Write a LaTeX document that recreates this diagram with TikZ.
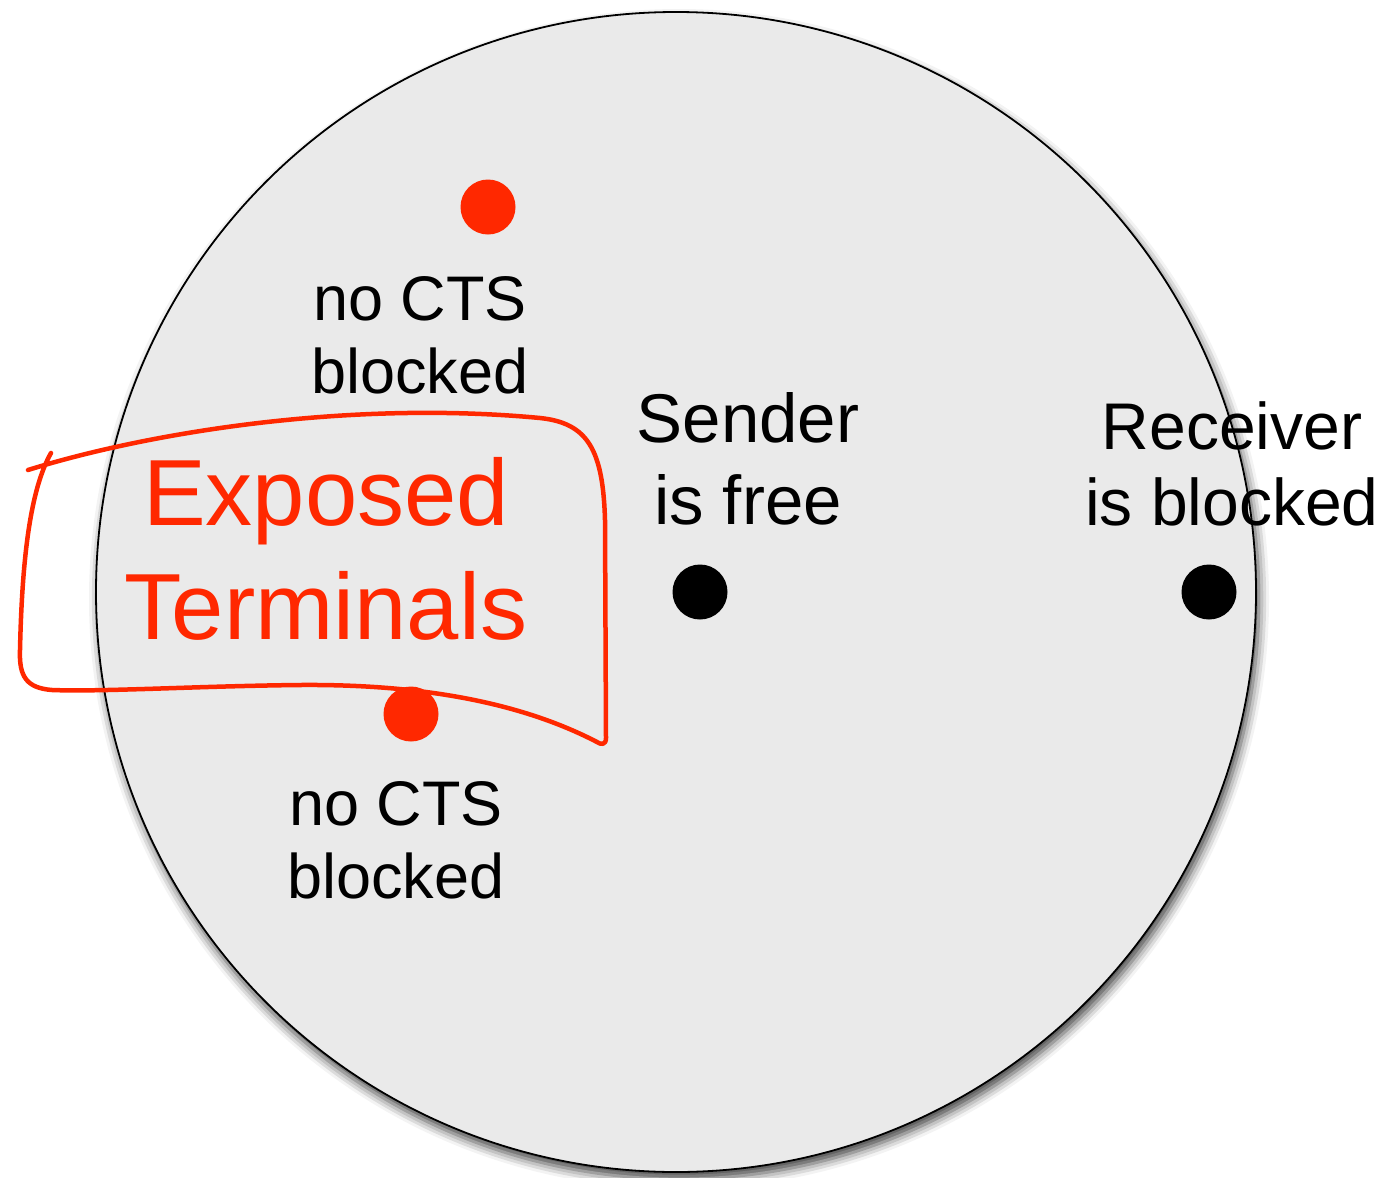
\documentclass[tikz,border=0pt]{standalone}
\usepackage{fontspec}
\setmainfont{Liberation Sans}
\usetikzlibrary{shadows.blur}
\definecolor{fieldgray}{RGB}{234,234,234}
\definecolor{alertred}{RGB}{255,40,0}
\begin{document}
\begin{tikzpicture}[x=1pt,y=-1pt,
  station/.style={circle,fill=#1,minimum size=55pt,inner sep=0pt},
  caption/.style={align=center,inner sep=0pt,anchor=base},
  marker/.style={draw=alertred,line width=4.5pt,line cap=round,line join=round}]
\useasboundingbox (0,0) rectangle (1387,1178);

% transmission range of the sender
\node[circle,draw=black,line width=1.8pt,fill=fieldgray,minimum size=1160pt,inner sep=0pt,
      blur shadow={shadow xshift=3pt,shadow yshift=-7pt,shadow blur radius=10pt,shadow opacity=75}]
  (range) at (676,592) {};

% stations
\node[station=alertred] (topnode) at (488,207) {};
\node[station=alertred] (botnode) at (411,714) {};
\node[station=black] (sender) at (700,592) {};
\node[station=black] (receiver) at (1209,592) {};

% captions (anchored at the baseline of their last line)
\node[caption,font=\fontsize{63}{73}\selectfont] (toptext) at (420,393) {no CTS\\blocked};
\node[caption,font=\fontsize{63}{73}\selectfont] (bottext) at (396,898) {no CTS\\blocked};
\node[caption,font=\fontsize{69}{82}\selectfont] (sendtext) at (748,524) {Sender\\is free};
\node[caption,font=\fontsize{66}{76}\selectfont] (recvtext) at (1232,525) {Receiver\\is blocked};
\node[caption,font=\fontsize{94}{114}\selectfont,text=alertred] (exposed) at (326,639) {Exposed\\Terminals};

% hand-drawn loop around the exposed terminals
\draw[marker] (28,470) .. controls (150,432) and (350,400) .. (540,418)
  .. controls (588,423) and (603,450) .. (605,520)
  -- (606,738) .. controls (606,745) and (601,745) .. (597,742)
  .. controls (520,702) and (420,684) .. (300,685)
  .. controls (200,686) and (100,692) .. (52,690)
  .. controls (26,688) and (19,676) .. (20,650)
  .. controls (22,560) and (30,490) .. (51,453);
\end{tikzpicture}
\end{document}
